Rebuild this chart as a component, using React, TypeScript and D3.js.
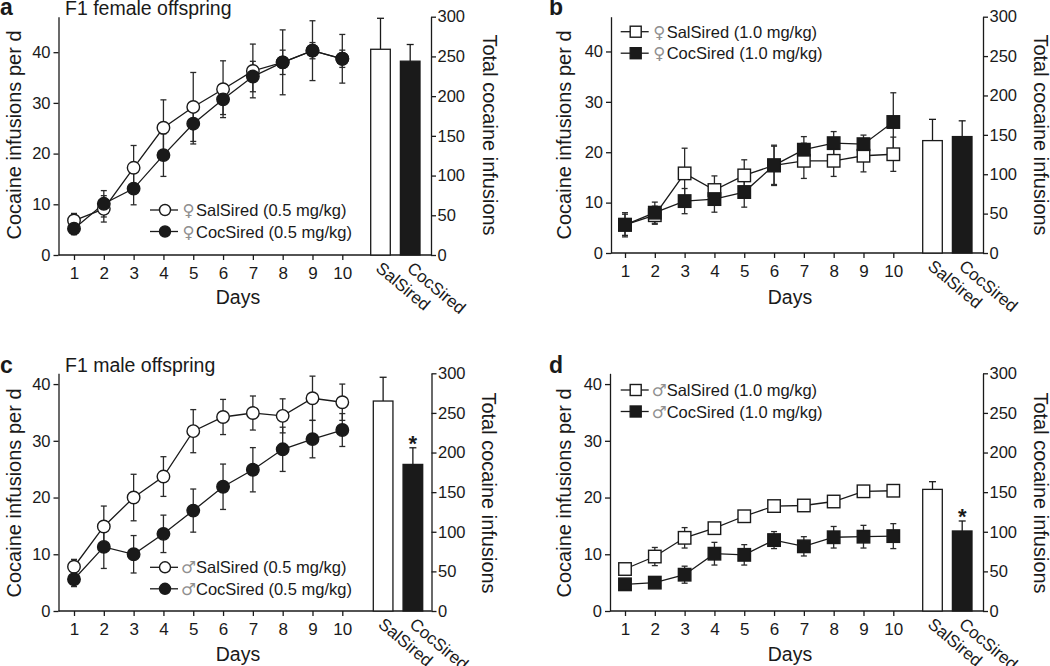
import React, { useRef, useEffect } from 'react';
import * as d3 from 'd3';

const days = [1, 2, 3, 4, 5, 6, 7, 8, 9, 10];
const groups = ['SalSired', 'CocSired'];
const leftTicks = [0, 10, 20, 30, 40];
const rightTicks = [0, 50, 100, 150, 200, 250, 300];

// a: F1 female offspring, 0.5 mg/kg
const aSal = [6.8, 9.1, 17.2, 25.1, 29.2, 32.7, 36.3, 38.0, 40.3, 38.7];
const aSalErr = [1.4, 2.6, 4.4, 5.5, 6.8, 5.6, 5.3, 6.4, 5.9, 4.8];
const aCoc = [5.2, 10.1, 13.1, 19.7, 25.9, 30.7, 35.2, 38.0, 40.3, 38.7];
const aCocErr = [1.2, 2.6, 3.2, 4.2, 4.0, 3.0, 3.0, 2.4, 1.6, 1.7];
const aTotals = [259, 244];
const aTotalsErr = [39, 21];

// b: F1 female offspring, 1.0 mg/kg
const bSal = [5.6, 7.5, 15.8, 12.5, 15.4, 17.4, 18.3, 18.3, 19.3, 19.6];
const bSalErr = [2.4, 1.8, 5.0, 2.8, 3.1, 4.0, 3.5, 3.1, 3.2, 3.4];
const bCoc = [5.6, 8.0, 10.3, 10.7, 12.1, 17.4, 20.5, 21.8, 21.6, 26.0];
const bCocErr = [2.1, 2.1, 2.5, 2.6, 3.0, 3.8, 2.6, 2.3, 1.8, 5.8];
const bTotals = [142.7, 147.8];
const bTotalsErr = [27, 20];

// c: F1 male offspring, 0.5 mg/kg
const cSal = [7.8, 14.9, 20.0, 23.7, 31.7, 34.2, 34.9, 34.4, 37.5, 36.8];
const cSalErr = [1.3, 3.6, 4.1, 3.5, 3.8, 3.1, 3.0, 3.0, 3.9, 3.2];
const cCoc = [5.6, 11.3, 10.0, 13.6, 17.7, 21.9, 24.9, 28.5, 30.3, 31.9];
const cCocErr = [1.3, 3.8, 3.3, 3.3, 3.8, 4.0, 3.9, 3.9, 3.3, 2.9];
const cTotals = [265, 185];
const cTotalsErr = [30, 21];

// d: F1 male offspring, 1.0 mg/kg
const dSal = [7.4, 9.6, 12.9, 14.6, 16.7, 18.5, 18.6, 19.3, 21.1, 21.2];
const dSalErr = [0.5, 1.6, 1.8, 0.7, 0.5, 0.5, 0.4, 0.5, 0.7, 0.4];
const dCoc = [4.7, 5.0, 6.4, 10.1, 9.9, 12.5, 11.4, 13.0, 13.1, 13.2];
const dCocErr = [0.4, 0.8, 1.5, 2.0, 1.8, 1.5, 1.7, 1.9, 2.0, 2.2];
const dTotals = [153.5, 101];
const dTotalsErr = [9.7, 12.6];

const FONT = '"Liberation Sans", Arial, Helvetica, sans-serif';
const INK = '#1a1a1a';

const panels = [
  {
    id: 'a', title: 'F1 female offspring', sex: '\u2640', dose: '0.5 mg/kg', marker: 'circle',
    sal: aSal, salErr: aSalErr, coc: aCoc, cocErr: aCocErr, totals: aTotals, totalsErr: aTotalsErr, star: false,
    box: { left: 58.5, right: 431, y0: 255, top: 16.7, yMax: 47, day1: 74, day10: 342.3, barL: 370.7, barR: 420,
      legendX: 150, legendY: 210, labelX: 0, labelY: 15, titleX: 65, titleY: 15,
      yTitleL: 21, yTitleR: 483, midY: 135, daysX: 238, daysY: 304 },
  },
  {
    id: 'b', title: '', sex: '\u2640', dose: '1.0 mg/kg', marker: 'square',
    sal: bSal, salErr: bSalErr, coc: bCoc, cocErr: bCocErr, totals: bTotals, totalsErr: bTotalsErr, star: false,
    box: { left: 611, right: 983, y0: 253, top: 16.7, yMax: 46.9, day1: 625, day10: 893.3, barL: 922.7, barR: 972,
      legendX: 620.7, legendY: 31.7, labelX: 549, labelY: 15, titleX: 0, titleY: 0,
      yTitleL: 571, yTitleR: 1034, midY: 135, daysX: 790, daysY: 304 },
  },
  {
    id: 'c', title: 'F1 male offspring', sex: '\u2642', dose: '0.5 mg/kg', marker: 'circle',
    sal: cSal, salErr: cSalErr, coc: cCoc, cocErr: cCocErr, totals: cTotals, totalsErr: cTotalsErr, star: true,
    box: { left: 58.5, right: 431.5, y0: 611, top: 373.3, yMax: 41.9, day1: 74, day10: 342.3, barL: 373.3, barR: 422.7,
      legendX: 150, legendY: 567.3, labelX: 0, labelY: 373, titleX: 65, titleY: 372,
      yTitleL: 21, yTitleR: 482, midY: 493, daysX: 238, daysY: 661 },
  },
  {
    id: 'd', title: '', sex: '\u2642', dose: '1.0 mg/kg', marker: 'square',
    sal: dSal, salErr: dSalErr, coc: dCoc, cocErr: dCocErr, totals: dTotals, totalsErr: dTotalsErr, star: true,
    box: { left: 610, right: 983, y0: 611, top: 373.3, yMax: 41.9, day1: 625, day10: 893.3, barL: 922.7, barR: 972,
      legendX: 620.7, legendY: 390, labelX: 549, labelY: 373.3, titleX: 0, titleY: 0,
      yTitleL: 571, yTitleR: 1034, midY: 493, daysX: 790, daysY: 661 },
  },
];

const styleAxis = (ax, size) => {
  ax.attr('font-family', FONT).attr('font-size', size);
  ax.selectAll('path, line').attr('stroke', INK).attr('stroke-width', 1.3);
  ax.selectAll('text').attr('fill', INK);
};

const drawMarker = (g, shape, cx, cy, filled, size) => {
  const fill = filled ? INK : '#fff';
  if (shape === 'circle') {
    g.append('circle').attr('cx', cx).attr('cy', cy).attr('r', size / 2)
      .attr('fill', fill).attr('stroke', INK).attr('stroke-width', 1.4);
  } else {
    g.append('rect').attr('x', cx - size / 2).attr('y', cy - size / 2)
      .attr('width', size).attr('height', size)
      .attr('fill', fill).attr('stroke', INK).attr('stroke-width', 1.4);
  }
};

const drawPanel = (svg, p) => {
  const L = p.box;
  const g = svg.append('g');

  const x = d3.scaleLinear().domain([1, 10]).range([L.day1, L.day10]);
  const y = d3.scaleLinear().domain([0, L.yMax]).range([L.y0, L.top]);
  const y2 = d3.scaleLinear().domain([0, 300]).range([L.y0, L.top]);
  const xb = d3.scaleBand().domain(groups).range([L.barL, L.barR]).paddingInner(0.34);

  // axes
  g.append('g').attr('transform', `translate(${L.left},0)`)
    .call(d3.axisLeft(y).tickValues(leftTicks).tickSize(5).tickPadding(3).tickSizeOuter(0))
    .call(ax => styleAxis(ax, 16.5));

  g.append('g').attr('transform', `translate(${L.right},0)`)
    .call(d3.axisRight(y2).tickValues(rightTicks).tickSize(5).tickPadding(1.5).tickSizeOuter(0))
    .call(ax => styleAxis(ax, 16.5));

  g.append('line').attr('x1', L.left).attr('x2', L.right).attr('y1', L.y0).attr('y2', L.y0)
    .attr('stroke', INK).attr('stroke-width', 1.3);

  g.append('g').attr('transform', `translate(0,${L.y0})`)
    .call(d3.axisBottom(x).tickValues(days).tickFormat(d3.format('d')).tickSize(5).tickPadding(7))
    .call(ax => ax.select('.domain').remove())
    .call(ax => styleAxis(ax, 17));

  // axis titles
  g.append('text').attr('transform', `translate(${L.yTitleL},${L.midY}) rotate(-90)`)
    .attr('text-anchor', 'middle').attr('font-family', FONT).attr('font-size', 20).attr('fill', INK)
    .text('Cocaine infusions per d');
  g.append('text').attr('transform', `translate(${L.yTitleR},${L.midY}) rotate(90)`)
    .attr('text-anchor', 'middle').attr('font-family', FONT).attr('font-size', 20).attr('fill', INK)
    .text('Total cocaine infusions');
  g.append('text').attr('x', L.daysX).attr('y', L.daysY)
    .attr('text-anchor', 'middle').attr('font-family', FONT).attr('font-size', 19.5).attr('fill', INK)
    .text('Days');

  // panel letter and title
  g.append('text').attr('x', L.labelX).attr('y', L.labelY)
    .attr('font-family', FONT).attr('font-size', 23).attr('font-weight', 'bold').attr('fill', INK)
    .text(p.id);
  if (p.title) {
    g.append('text').attr('x', L.titleX).attr('y', L.titleY)
      .attr('font-family', FONT).attr('font-size', 19.5).attr('fill', INK)
      .text(p.title);
  }

  // bars
  const barG = g.append('g');
  groups.forEach((grp, i) => {
    const bx = xb(grp);
    const bw = xb.bandwidth();
    const v = p.totals[i];
    const e = p.totalsErr[i];
    const cx = bx + bw / 2;
    barG.append('line').attr('x1', cx).attr('x2', cx).attr('y1', y2(v)).attr('y2', y2(v + e))
      .attr('stroke', INK).attr('stroke-width', 1.3);
    barG.append('line').attr('x1', cx - 3.5).attr('x2', cx + 3.5).attr('y1', y2(v + e)).attr('y2', y2(v + e))
      .attr('stroke', INK).attr('stroke-width', 1.3);
    barG.append('rect').attr('x', bx).attr('y', y2(v)).attr('width', bw).attr('height', L.y0 - y2(v))
      .attr('fill', i === 0 ? '#fff' : INK).attr('stroke', INK).attr('stroke-width', 1.3);
    barG.append('text')
      .attr('transform', `translate(${bx + 4 + i * 1.5},${L.y0 + 15}) rotate(40)`)
      .attr('font-family', FONT).attr('font-size', 17).attr('fill', INK)
      .text(grp);
    if (p.star && i === 1) {
      barG.append('text').attr('x', cx).attr('y', y2(v + e) + 3.5)
        .attr('text-anchor', 'middle').attr('font-family', FONT).attr('font-size', 22)
        .attr('font-weight', 'bold').attr('fill', INK).text('*');
    }
  });

  // daily series
  const series = [
    { mean: p.sal, err: p.salErr, filled: false },
    { mean: p.coc, err: p.cocErr, filled: true },
  ];
  const errG = g.append('g').attr('stroke', '#2a2a2a').attr('stroke-width', 1.3);
  series.forEach(s => {
    days.forEach((d, i) => {
      const cx = x(d);
      const lo = y(s.mean[i] - s.err[i]);
      const hi = y(s.mean[i] + s.err[i]);
      errG.append('line').attr('x1', cx).attr('x2', cx).attr('y1', lo).attr('y2', hi);
      errG.append('line').attr('x1', cx - 3).attr('x2', cx + 3).attr('y1', lo).attr('y2', lo);
      errG.append('line').attr('x1', cx - 3).attr('x2', cx + 3).attr('y1', hi).attr('y2', hi);
    });
  });
  const line = d3.line().x((_, i) => x(days[i])).y(v => y(v));
  series.forEach(s => {
    g.append('path').attr('d', line(s.mean)).attr('fill', 'none')
      .attr('stroke', INK).attr('stroke-width', 1.3);
  });
  series.forEach(s => {
    const mg = g.append('g');
    days.forEach((d, i) => drawMarker(mg, p.marker, x(d), y(s.mean[i]), s.filled, 12.5));
  });

  // legend
  const lg = g.append('g');
  series.forEach((s, i) => {
    const ly = L.legendY + i * 21.5;
    lg.append('line').attr('x1', L.legendX).attr('x2', L.legendX + 28).attr('y1', ly).attr('y2', ly)
      .attr('stroke', INK).attr('stroke-width', 1.3);
    drawMarker(lg, p.marker, L.legendX + 15, ly, s.filled, 11);
    lg.append('text').attr('x', L.legendX + 38.5).attr('y', ly + 6)
      .attr('text-anchor', 'middle').attr('font-family', '"DejaVu Sans", sans-serif')
      .attr('font-size', 16.5).attr('fill', '#8f8f8f').text(p.sex);
    lg.append('text').attr('x', L.legendX + 46).attr('y', ly + 6)
      .attr('font-family', FONT).attr('font-size', 16.5).attr('fill', INK)
      .text(`${groups[i]} (${p.dose})`);
  });
};

const App = () => {
  const svgRef = useRef(null);

  useEffect(() => {
    const svg = d3.select(svgRef.current);
    svg.selectAll('*').remove();
    svg.append('rect').attr('width', 1050).attr('height', 666).attr('fill', '#fff');
    panels.forEach(p => drawPanel(svg, p));
  }, []);

  return (
    <svg
      ref={svgRef}
      width={1050}
      height={666}
      style={{ position: 'absolute', left: 0, top: 0, display: 'block' }}
    />
  );
};

export default App;
